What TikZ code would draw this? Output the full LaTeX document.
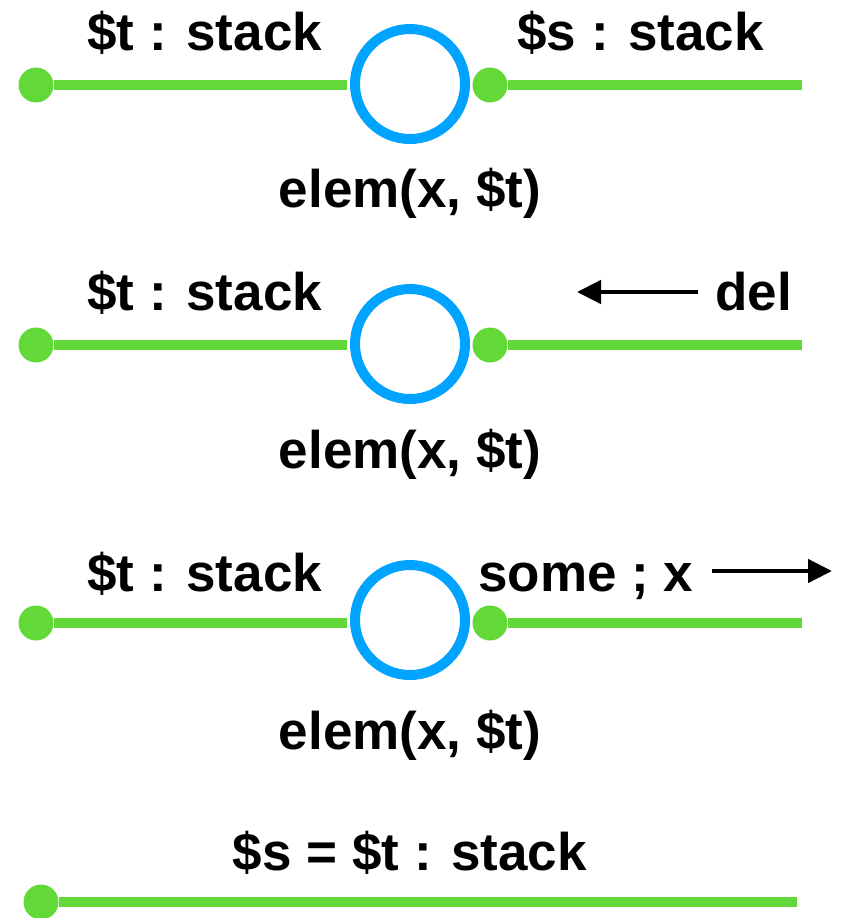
\documentclass[tikz,border=0pt]{standalone}
\usepackage{fontspec}
\setmainfont{Liberation Sans}
\usetikzlibrary{arrows.meta,shapes}
\definecolor{wiregreen}{RGB}{98,217,56}
\definecolor{ringblue}{RGB}{0,163,255}
\tikzstyle{dotvertex}=[circle,fill=wiregreen,minimum size=17.5pt,inner sep=0pt]
\tikzstyle{ringvertex}=[circle,draw=ringblue,line width=5pt,minimum size=55pt,inner sep=0pt]
\tikzstyle{wire} = [draw,wiregreen,line width=5.25pt]
\tikzstyle{msg} = [draw,line width=2.3pt,-{Triangle[length=12pt,width=11.5pt]}]
\tikzstyle{lbl}=[font=\fontsize{26.5}{30}\selectfont\bfseries,inner sep=0pt]

\begin{document}
\begin{tikzpicture}[x=0.5pt,y=-0.5pt]
    \useasboundingbox (0,0) rectangle (843,918);

    \def\y{0};
    \node[ringvertex] (c) at (410,84+\y) {};
    \foreach \pos/\name in {{(36,85+\y)/a}, {(490,85+\y)/b}}
        \node[dotvertex] (\name) at \pos {};
    \coordinate (e) at (802,85+\y);
    \path[wire] (a) -- ([xshift=-1.5pt]c.west |- a);
    \path[wire] (b) -- (e);

       \node[lbl, anchor=base west] (tl) at (87,50+\y) {\$t : stack};
       \node[lbl, anchor=base west] (sl) at (517,50+\y) {\$s : stack};
       \node[lbl, anchor=base] (el) at (410,207+\y) {elem(x, \$t)};


    \def\y{260};
    \node[ringvertex] (c) at (410,84+\y) {};
    \foreach \pos/\name in {{(36,85+\y)/a}, {(490,85+\y)/b}}
        \node[dotvertex] (\name) at \pos {};
    \coordinate (e) at (802,85+\y);
    \path[wire] (a) -- ([xshift=-1.5pt]c.west |- a);
    \path[wire] (b) -- (e);

       \node[lbl, anchor=base west] (tl) at (87,50+\y) {\$t : stack};
       \node[lbl, anchor=base west] (dl) at (715,50+\y) {del};
       \node[lbl, anchor=base] (el) at (410,208+\y) {elem(x, \$t)};
    \coordinate (dtail) at (698,32+\y);
    \coordinate (dhead) at (577,32+\y);
    \path[msg] (dtail) -- (dhead);


    \def\y{538};
    \node[ringvertex] (c) at (410,82+\y) {};
    \foreach \pos/\name in {{(36,85+\y)/a}, {(490,85+\y)/b}}
        \node[dotvertex] (\name) at \pos {};
    \coordinate (e) at (802,85+\y);
    \path[wire] (a) -- ([xshift=-1.5pt]c.west |- a);
    \path[wire] (b) -- (e);

       \node[lbl, anchor=base west] (tl) at (87,53+\y) {\$t : stack};
       \node[lbl, anchor=base west] (xl) at (478,53+\y) {some ; x};
       \node[lbl, anchor=base] (el) at (410,211+\y) {elem(x, \$t)};
    \coordinate (xtail) at (712,33+\y);
    \coordinate (xhead) at (832,33+\y);
    \path[msg] (xtail) -- (xhead);


    \node[dotvertex] (a) at (41,902) {};
    \coordinate (e) at (797,902);
    \path[wire] (a) -- (e);
       \node[lbl, anchor=base] (ql) at (410,870) {\$s = \$t : stack};

\end{tikzpicture}
\end{document}
